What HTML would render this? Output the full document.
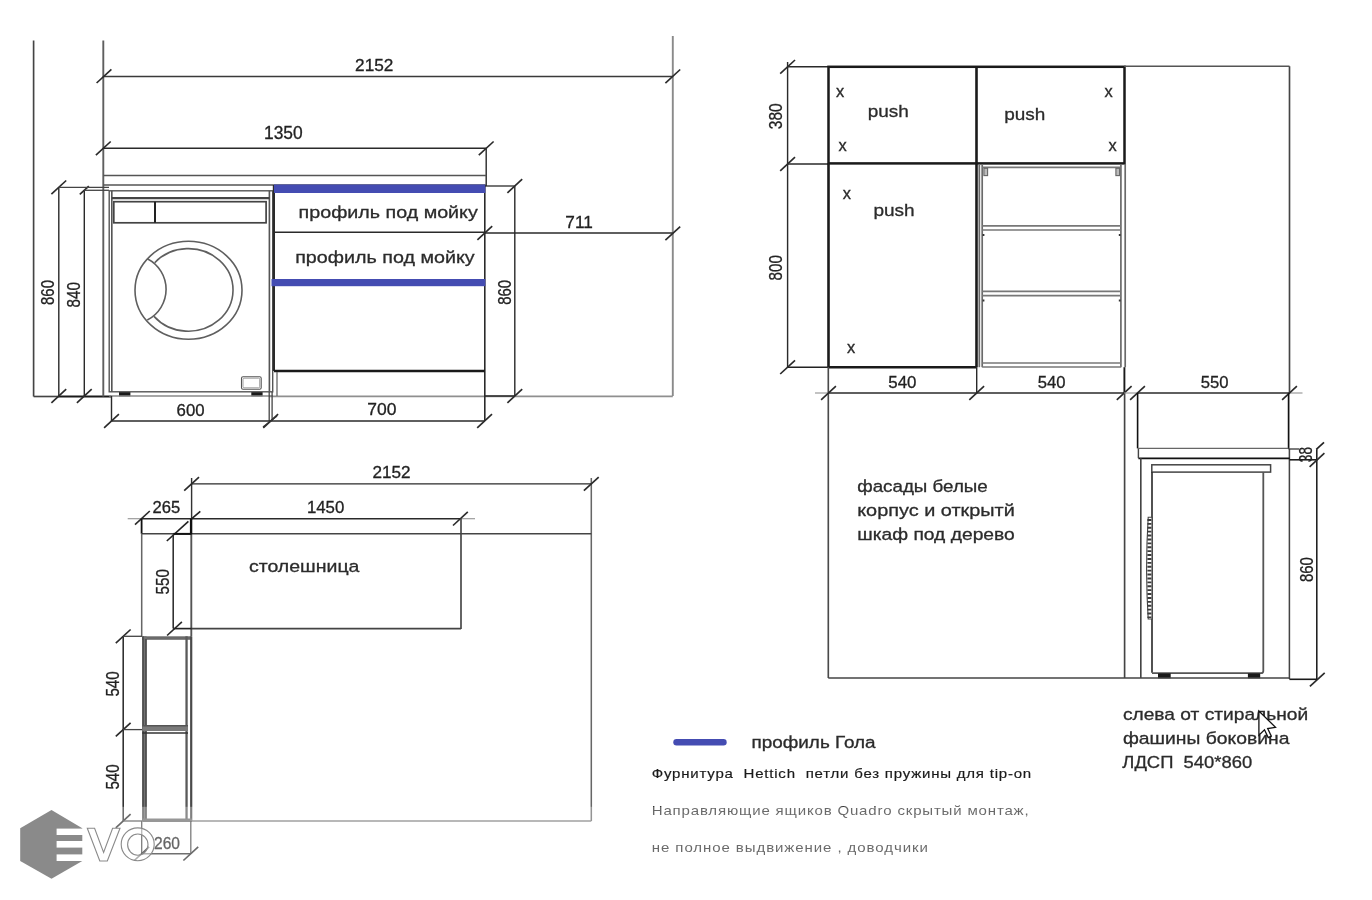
<!DOCTYPE html>
<html><head><meta charset="utf-8"><title>drawing</title>
<style>
html,body{margin:0;padding:0;background:#fff;}
body{width:1372px;height:900px;overflow:hidden;}
svg{display:block;font-family:"Liberation Sans",sans-serif;}
</style></head><body>
<svg width="1372" height="900" viewBox="0 0 1372 900">
<rect width="1372" height="900" fill="#fff"/>
<defs><filter id="soft" x="0" y="0" width="100%" height="100%" filterUnits="userSpaceOnUse" color-interpolation-filters="sRGB"><feGaussianBlur stdDeviation="0.42"/></filter></defs>
<g filter="url(#soft)">
<line x1="33.6" y1="40.5" x2="33.6" y2="396.5" stroke="#444" stroke-width="1.65" />
<line x1="33.6" y1="396.5" x2="58" y2="396.5" stroke="#444" stroke-width="1.65" />
<line x1="58" y1="396.5" x2="111.4" y2="396.5" stroke="#1a1a1a" stroke-width="1.9" />
<line x1="269" y1="396.3" x2="672.8" y2="396.3" stroke="#8f8f8f" stroke-width="1.8" />
<line x1="484.6" y1="396" x2="515" y2="396" stroke="#2a2a2a" stroke-width="1.53" />
<line x1="672.8" y1="36" x2="672.8" y2="396" stroke="#8a8a8a" stroke-width="1.9" />
<line x1="103.3" y1="40.5" x2="103.3" y2="396.5" stroke="#5f5f5f" stroke-width="1.9" />
<line x1="103.3" y1="76.5" x2="672.6" y2="76.5" stroke="#3a3a3a" stroke-width="1.65" />
<line x1="96.6" y1="83.0" x2="111.4" y2="69.4" stroke="#2a2a2a" stroke-width="1.65" />
<line x1="665.4" y1="83.1" x2="680.2" y2="69.5" stroke="#2a2a2a" stroke-width="1.65" />
<text x="355.1" y="70.9" font-size="17.3" fill="#222" font-weight="normal" textLength="38.3" lengthAdjust="spacingAndGlyphs" stroke="#222" stroke-width="0.3">2152</text>
<line x1="103.3" y1="148.3" x2="486.2" y2="148.3" stroke="#2a2a2a" stroke-width="1.53" />
<line x1="95.9" y1="155.1" x2="110.7" y2="141.5" stroke="#2a2a2a" stroke-width="1.65" />
<line x1="478.8" y1="155.1" x2="493.6" y2="141.5" stroke="#2a2a2a" stroke-width="1.65" />
<line x1="486.2" y1="148.3" x2="486.2" y2="186" stroke="#2a2a2a" stroke-width="1.42" />
<text x="264" y="138.5" font-size="17.6" fill="#222" font-weight="normal" textLength="38.7" lengthAdjust="spacingAndGlyphs"  stroke="#222" stroke-width="0.3">1350</text>
<line x1="103.3" y1="175.6" x2="486.2" y2="175.6" stroke="#555" stroke-width="1.53" />
<line x1="103.3" y1="185" x2="486.2" y2="185" stroke="#555" stroke-width="1.53" />
<line x1="58.8" y1="187.3" x2="58.8" y2="396" stroke="#2a2a2a" stroke-width="1.42" />
<line x1="51.4" y1="194.1" x2="66.2" y2="180.5" stroke="#2a2a2a" stroke-width="1.65" />
<line x1="51.4" y1="402.8" x2="66.2" y2="389.2" stroke="#2a2a2a" stroke-width="1.65" />
<line x1="84.3" y1="190.3" x2="84.3" y2="396" stroke="#2a2a2a" stroke-width="1.42" />
<line x1="79.8" y1="194.4" x2="88.8" y2="186.2" stroke="#2a2a2a" stroke-width="1.65" />
<line x1="76.9" y1="402.8" x2="91.7" y2="389.2" stroke="#2a2a2a" stroke-width="1.65" />
<line x1="58.8" y1="187.3" x2="109" y2="187.3" stroke="#444" stroke-width="1.3" />
<line x1="84.3" y1="190.3" x2="109" y2="190.3" stroke="#444" stroke-width="1.3" />
<text transform="translate(41.1,304.95) rotate(-90)" x="0" y="12.6" font-size="17.6" fill="#222" font-weight="normal" textLength="24.9" lengthAdjust="spacingAndGlyphs" stroke="#222" stroke-width="0.3">860</text>
<text transform="translate(66.95,307.4) rotate(-90)" x="0" y="13.1" font-size="18.2" fill="#222" font-weight="normal" textLength="25.4" lengthAdjust="spacingAndGlyphs" stroke="#222" stroke-width="0.3">840</text>
<rect x="109.2" y="190.8" width="163.5" height="201.0" stroke="#555" stroke-width="1.4" fill="none" rx="0"/>
<line x1="111.8" y1="190.8" x2="111.8" y2="391.8" stroke="#555" stroke-width="1.65" />
<line x1="269.4" y1="190.8" x2="269.4" y2="391.8" stroke="#555" stroke-width="1.65" />
<line x1="111.8" y1="198.1" x2="269.4" y2="198.1" stroke="#444" stroke-width="2.2" />
<rect x="113.8" y="201.7" width="152.3" height="21.1" stroke="#444" stroke-width="1.7" fill="none" rx="0"/>
<line x1="155" y1="201.7" x2="155" y2="222.8" stroke="#222" stroke-width="2" />
<ellipse cx="188.5" cy="290.3" rx="53.5" ry="49" fill="none" stroke="#5f5f5f" stroke-width="1.6"/>
<path d="M154.7,262.7 A44.7,41.3 0 1 1 154,316.4" fill="none" stroke="#5f5f5f" stroke-width="1.6"/>
<path d="M147.3,258.7 A34.4,34.4 0 0 1 147.3,320" fill="none" stroke="#5f5f5f" stroke-width="1.6"/>
<rect x="241.5" y="376.7" width="19.7" height="12.6" stroke="#555" stroke-width="1.1" fill="none" rx="1.5"/>
<rect x="243" y="378.2" width="16.7" height="9.6" stroke="#888" stroke-width="0.8" fill="none" rx="1"/>
<rect x="119" y="392.2" width="11.4" height="4.1" fill="#1a1a1a"/>
<rect x="251.3" y="392.2" width="11.3" height="4.1" fill="#1a1a1a"/>
<line x1="109.2" y1="396" x2="272.7" y2="396" stroke="#888" stroke-width="1.3" />
<line x1="111.5" y1="396" x2="111.5" y2="421" stroke="#2a2a2a" stroke-width="1.42" />
<line x1="269.2" y1="392" x2="269.2" y2="421" stroke="#444" stroke-width="1.3" />
<line x1="272.1" y1="392" x2="272.1" y2="421" stroke="#444" stroke-width="1.3" />
<line x1="111.5" y1="421" x2="484.6" y2="421" stroke="#2a2a2a" stroke-width="1.53" />
<line x1="104.1" y1="427.8" x2="118.9" y2="414.2" stroke="#2a2a2a" stroke-width="1.65" />
<line x1="263.3" y1="427.8" x2="278.1" y2="414.2" stroke="#2a2a2a" stroke-width="1.65" />
<line x1="477.2" y1="427.8" x2="492.0" y2="414.2" stroke="#2a2a2a" stroke-width="1.65" />
<line x1="263" y1="427" x2="277" y2="416" stroke="#333" stroke-width="1.42" />
<text x="176.6" y="415.8" font-size="17.3" fill="#222" font-weight="normal" textLength="28" lengthAdjust="spacingAndGlyphs" stroke="#222" stroke-width="0.3">600</text>
<text x="367.3" y="415.4" font-size="17.3" fill="#222" font-weight="normal" textLength="29.2" lengthAdjust="spacingAndGlyphs"  stroke="#222" stroke-width="0.3">700</text>
<line x1="273.9" y1="185" x2="273.9" y2="371" stroke="#2a2a2a" stroke-width="2.2" />
<line x1="484.8" y1="185" x2="484.8" y2="421" stroke="#2a2a2a" stroke-width="1.6" />
<line x1="274" y1="371" x2="484.8" y2="371" stroke="#1a1a1a" stroke-width="2.4" />
<line x1="274" y1="232.3" x2="484.8" y2="232.3" stroke="#2a2a2a" stroke-width="1.42" />
<rect x="274" y="184.5" width="211.4" height="8.5" fill="#444cb2"/>
<rect x="271.5" y="279" width="213.9" height="7.2" fill="#444cb2"/>
<line x1="277" y1="372" x2="277" y2="396" stroke="#666" stroke-width="1.3" />
<text x="298.6" y="217.9" font-size="17.2" fill="#2b2b2b" font-weight="normal" textLength="179.2" lengthAdjust="spacingAndGlyphs"  stroke="#2b2b2b" stroke-width="0.3">профиль под мойку</text>
<text x="295.2" y="262.8" font-size="17.2" fill="#2b2b2b" font-weight="normal" textLength="179.5" lengthAdjust="spacingAndGlyphs"  stroke="#2b2b2b" stroke-width="0.3">профиль под мойку</text>
<line x1="514.8" y1="186" x2="514.8" y2="396" stroke="#2a2a2a" stroke-width="1.42" />
<line x1="507.4" y1="192.8" x2="522.2" y2="179.2" stroke="#2a2a2a" stroke-width="1.65" />
<line x1="507.4" y1="402.8" x2="522.2" y2="389.2" stroke="#2a2a2a" stroke-width="1.65" />
<line x1="485" y1="186" x2="514.8" y2="186" stroke="#2a2a2a" stroke-width="1.3" />
<text transform="translate(497.65,304.85) rotate(-90)" x="0" y="13.1" font-size="18.2" fill="#222" font-weight="normal" textLength="24.9" lengthAdjust="spacingAndGlyphs" stroke="#222" stroke-width="0.3">860</text>
<line x1="484.8" y1="233" x2="672.6" y2="233" stroke="#2a2a2a" stroke-width="1.53" />
<line x1="477.4" y1="239.8" x2="492.2" y2="226.2" stroke="#2a2a2a" stroke-width="1.65" />
<line x1="665.4" y1="240.2" x2="680.2" y2="226.6" stroke="#2a2a2a" stroke-width="1.65" />
<text x="565.3" y="227.9" font-size="17.3" fill="#222" font-weight="normal" textLength="27.5" lengthAdjust="spacingAndGlyphs" stroke="#222" stroke-width="0.3">711</text>
<line x1="191.6" y1="478" x2="191.6" y2="518.7" stroke="#333" stroke-width="1.42" />
<line x1="191.3" y1="534" x2="191.3" y2="636" stroke="#555" stroke-width="1.9" />
<line x1="591.3" y1="478" x2="591.3" y2="821" stroke="#666" stroke-width="1.53" />
<line x1="191.6" y1="483.9" x2="591.3" y2="483.9" stroke="#2a2a2a" stroke-width="1.42" />
<line x1="184.2" y1="490.7" x2="199.0" y2="477.1" stroke="#2a2a2a" stroke-width="1.65" />
<line x1="583.9" y1="490.7" x2="598.7" y2="477.1" stroke="#2a2a2a" stroke-width="1.65" />
<text x="372.5" y="478.3" font-size="17.3" fill="#222" font-weight="normal" textLength="38.1" lengthAdjust="spacingAndGlyphs" stroke="#222" stroke-width="0.3">2152</text>
<line x1="127.7" y1="518.7" x2="141.3" y2="518.7" stroke="#999" stroke-width="1.18" />
<line x1="460.4" y1="518.7" x2="475" y2="518.7" stroke="#999" stroke-width="1.18" />
<line x1="141.3" y1="518.7" x2="460.4" y2="518.7" stroke="#2a2a2a" stroke-width="1.65" />
<line x1="135.0" y1="524.6" x2="149.8" y2="511.0" stroke="#2a2a2a" stroke-width="1.65" />
<line x1="453.0" y1="525.5" x2="467.8" y2="511.9" stroke="#2a2a2a" stroke-width="1.65" />
<line x1="191.2" y1="519.2" x2="200.3" y2="511.4" stroke="#222" stroke-width="1.65" />
<line x1="166.8" y1="541" x2="188.4" y2="521.4" stroke="#222" stroke-width="1.65" />
<text x="152.6" y="513" font-size="17.3" fill="#222" font-weight="normal" textLength="27.7" lengthAdjust="spacingAndGlyphs" stroke="#222" stroke-width="0.3">265</text>
<text x="306.9" y="513" font-size="17.3" fill="#222" font-weight="normal" textLength="37.4" lengthAdjust="spacingAndGlyphs" stroke="#222" stroke-width="0.3">1450</text>
<line x1="141.7" y1="533.7" x2="591.3" y2="533.7" stroke="#444" stroke-width="1.53" />
<line x1="461" y1="518.7" x2="461" y2="629" stroke="#444" stroke-width="1.65" />
<line x1="191.6" y1="628.6" x2="461" y2="628.6" stroke="#444" stroke-width="1.65" />
<line x1="141.6" y1="518.7" x2="141.6" y2="533.7" stroke="#111" stroke-width="1.8" />
<line x1="141.7" y1="533.7" x2="141.7" y2="636" stroke="#666" stroke-width="1.53" />
<line x1="191.1" y1="518.7" x2="191.1" y2="534" stroke="#111" stroke-width="2.4" />
<line x1="173.4" y1="533.9" x2="191.6" y2="533.9" stroke="#111" stroke-width="2" />
<line x1="173.2" y1="534.5" x2="173.2" y2="628.6" stroke="#2a2a2a" stroke-width="1.53" />
<line x1="167.1" y1="635.5" x2="181.9" y2="621.9" stroke="#2a2a2a" stroke-width="1.65" />
<line x1="173.2" y1="628.6" x2="191.6" y2="628.6" stroke="#222" stroke-width="1.65" />
<text transform="translate(155.85,594.45) rotate(-90)" x="0" y="12.9" font-size="18" fill="#222" font-weight="normal" textLength="25.3" lengthAdjust="spacingAndGlyphs" stroke="#222" stroke-width="0.3">550</text>
<text x="249" y="572.3" font-size="17.2" fill="#2b2b2b" font-weight="normal" textLength="110.4" lengthAdjust="spacingAndGlyphs"  stroke="#2b2b2b" stroke-width="0.3">столешница</text>
<rect x="142" y="636.3" width="49.8" height="3.5" fill="#6a6a6a"/>
<rect x="142.3" y="636.3" width="4.3" height="184.7" fill="#727272"/>
<line x1="143" y1="636.3" x2="143" y2="821" stroke="#444" stroke-width="1.42" />
<line x1="146" y1="639" x2="146" y2="821" stroke="#444" stroke-width="1.42" />
<rect x="185.4" y="636.3" width="2.3" height="184.7" fill="#5a5a5a"/>
<rect x="190.1" y="636.3" width="2.2" height="184.7" fill="#4a4a4a"/>
<rect x="142.3" y="725.2" width="45.7" height="5.8" fill="#7a7a7a"/>
<line x1="142.3" y1="725.8" x2="188" y2="725.8" stroke="#555" stroke-width="1.42" />
<line x1="142.3" y1="733" x2="188" y2="733" stroke="#333" stroke-width="1.7" />
<rect x="142.3" y="818.5" width="49.7" height="3.5" fill="#6a6a6a"/>
<line x1="123.2" y1="636.3" x2="123.2" y2="821" stroke="#2a2a2a" stroke-width="1.53" />
<line x1="115.8" y1="643.1" x2="130.6" y2="629.5" stroke="#2a2a2a" stroke-width="1.65" />
<line x1="115.8" y1="736.4" x2="130.6" y2="722.8" stroke="#2a2a2a" stroke-width="1.65" />
<line x1="115.8" y1="827.8" x2="130.6" y2="814.2" stroke="#2a2a2a" stroke-width="1.65" />
<line x1="123.2" y1="636.3" x2="142" y2="636.3" stroke="#444" stroke-width="1.3" />
<line x1="123.2" y1="729.6" x2="142" y2="729.6" stroke="#444" stroke-width="1.3" />
<line x1="123.2" y1="821" x2="142" y2="821" stroke="#444" stroke-width="1.3" />
<text transform="translate(106.1,696.6) rotate(-90)" x="0" y="12.6" font-size="17.6" fill="#222" font-weight="normal" textLength="25.4" lengthAdjust="spacingAndGlyphs" stroke="#222" stroke-width="0.3">540</text>
<text transform="translate(105.65,789.6) rotate(-90)" x="0" y="13.1" font-size="18.2" fill="#222" font-weight="normal" textLength="25.4" lengthAdjust="spacingAndGlyphs" stroke="#222" stroke-width="0.3">540</text>
<line x1="191.6" y1="821" x2="591.3" y2="821" stroke="#777" stroke-width="1.65" />
<line x1="141.7" y1="821" x2="141.7" y2="853.7" stroke="#444" stroke-width="1.3" />
<line x1="190.8" y1="821" x2="190.8" y2="853.7" stroke="#444" stroke-width="1.3" />
<line x1="141.7" y1="853.7" x2="190.8" y2="853.7" stroke="#333" stroke-width="1.53" />
<line x1="134.3" y1="860.5" x2="149.1" y2="846.9" stroke="#2a2a2a" stroke-width="1.65" />
<line x1="183.4" y1="860.5" x2="198.2" y2="846.9" stroke="#2a2a2a" stroke-width="1.65" />
<text x="154" y="848.8" font-size="17.3" fill="#222" font-weight="normal" textLength="26" lengthAdjust="spacingAndGlyphs" stroke="#222" stroke-width="0.3">260</text>
<line x1="787.6" y1="62" x2="787.6" y2="367.2" stroke="#2a2a2a" stroke-width="1.42" />
<line x1="780.2" y1="73.6" x2="795.0" y2="60.0" stroke="#2a2a2a" stroke-width="1.65" />
<line x1="780.2" y1="170.8" x2="795.0" y2="157.2" stroke="#2a2a2a" stroke-width="1.65" />
<line x1="780.2" y1="374.0" x2="795.0" y2="360.4" stroke="#2a2a2a" stroke-width="1.65" />
<line x1="787.6" y1="66.8" x2="828.5" y2="66.8" stroke="#2a2a2a" stroke-width="1.42" />
<line x1="787.6" y1="164" x2="828.5" y2="164" stroke="#2a2a2a" stroke-width="1.42" />
<line x1="787.6" y1="367.2" x2="828.5" y2="367.2" stroke="#222" stroke-width="1.65" />
<text transform="translate(769.7,129.15) rotate(-90)" x="0" y="12.6" font-size="17.6" fill="#222" font-weight="normal" textLength="25.9" lengthAdjust="spacingAndGlyphs" stroke="#222" stroke-width="0.3">380</text>
<text transform="translate(769.7,280.4) rotate(-90)" x="0" y="12.6" font-size="17.6" fill="#222" font-weight="normal" textLength="25.4" lengthAdjust="spacingAndGlyphs" stroke="#222" stroke-width="0.3">800</text>
<rect x="828.5" y="66.8" width="296.0" height="96.6" stroke="#1a1a1a" stroke-width="2.5" fill="none" rx="0"/>
<line x1="976.5" y1="66.8" x2="976.5" y2="367.2" stroke="#1a1a1a" stroke-width="2.6" />
<line x1="828.5" y1="163.4" x2="828.5" y2="367.2" stroke="#1a1a1a" stroke-width="2.6" />
<line x1="828.5" y1="367.2" x2="976.7" y2="367.2" stroke="#1a1a1a" stroke-width="2.6" />
<line x1="979.3" y1="164" x2="979.3" y2="367.2" stroke="#6a6a6a" stroke-width="1.7" />
<line x1="982.2" y1="164" x2="982.2" y2="367.2" stroke="#6a6a6a" stroke-width="1.7" />
<line x1="1120.9" y1="164" x2="1120.9" y2="367.2" stroke="#6a6a6a" stroke-width="1.7" />
<line x1="1125.2" y1="164" x2="1125.2" y2="367.2" stroke="#6a6a6a" stroke-width="1.7" />
<line x1="982.2" y1="167.4" x2="1120.9" y2="167.4" stroke="#777" stroke-width="1.8" />
<line x1="982.2" y1="225.9" x2="1120.9" y2="225.9" stroke="#777" stroke-width="1.7" />
<line x1="982.2" y1="230" x2="1120.9" y2="230" stroke="#777" stroke-width="1.7" />
<line x1="982.2" y1="291.3" x2="1120.9" y2="291.3" stroke="#777" stroke-width="1.7" />
<line x1="982.2" y1="295.6" x2="1120.9" y2="295.6" stroke="#777" stroke-width="1.7" />
<line x1="982.2" y1="363" x2="1120.9" y2="363" stroke="#777" stroke-width="1.7" />
<line x1="982.2" y1="367" x2="1120.9" y2="367" stroke="#777" stroke-width="1.7" />
<rect x="983.9" y="168.3" width="3.7" height="7.3" stroke="#666" stroke-width="1.1" fill="#bbb" rx="0"/>
<rect x="1115.9" y="168.3" width="3.7" height="7.3" stroke="#666" stroke-width="1.1" fill="#bbb" rx="0"/>
<rect x="982.6" y="234" width="1.8" height="2" fill="#333"/>
<rect x="1118.8" y="234" width="1.8" height="2" fill="#333"/>
<rect x="982.6" y="299.5" width="1.8" height="2.0" fill="#333"/>
<rect x="1118.8" y="299.5" width="1.8" height="2.0" fill="#333"/>
<line x1="1124.2" y1="66.3" x2="1289.5" y2="66.3" stroke="#555" stroke-width="1.53" />
<line x1="1289.5" y1="66.3" x2="1289.5" y2="393" stroke="#444" stroke-width="1.65" />
<line x1="828.3" y1="367.2" x2="828.3" y2="678" stroke="#4a4a4a" stroke-width="1.65" />
<line x1="1124.6" y1="393" x2="1124.6" y2="678" stroke="#444" stroke-width="1.65" />
<line x1="1124.4" y1="367.2" x2="1124.4" y2="393" stroke="#1a1a1a" stroke-width="1.9" />
<line x1="815" y1="393" x2="828.5" y2="393" stroke="#999" stroke-width="1.18" />
<line x1="828.5" y1="393" x2="1124.2" y2="393" stroke="#2a2a2a" stroke-width="1.53" />
<line x1="821.1" y1="399.8" x2="835.9" y2="386.2" stroke="#2a2a2a" stroke-width="1.65" />
<line x1="969.3" y1="399.8" x2="984.1" y2="386.2" stroke="#2a2a2a" stroke-width="1.65" />
<line x1="1116.8" y1="399.8" x2="1131.6" y2="386.2" stroke="#2a2a2a" stroke-width="1.65" />
<line x1="976.7" y1="367.2" x2="976.7" y2="393" stroke="#2a2a2a" stroke-width="1.42" />
<line x1="1124.2" y1="393" x2="1137.5" y2="393" stroke="#999" stroke-width="1.18" />
<line x1="1289.5" y1="393" x2="1302.5" y2="393" stroke="#999" stroke-width="1.18" />
<line x1="1137.5" y1="393" x2="1289.5" y2="393" stroke="#2a2a2a" stroke-width="1.53" />
<line x1="1130.1" y1="399.8" x2="1144.9" y2="386.2" stroke="#2a2a2a" stroke-width="1.65" />
<line x1="1282.1" y1="399.8" x2="1296.9" y2="386.2" stroke="#2a2a2a" stroke-width="1.65" />
<text x="888.3" y="387.9" font-size="17.3" fill="#222" font-weight="normal" textLength="28.2" lengthAdjust="spacingAndGlyphs" stroke="#222" stroke-width="0.3">540</text>
<text x="1037.8" y="387.9" font-size="17.3" fill="#222" font-weight="normal" textLength="27.8" lengthAdjust="spacingAndGlyphs" stroke="#222" stroke-width="0.3">540</text>
<text x="1200.7" y="387.9" font-size="17.3" fill="#222" font-weight="normal" textLength="27.8" lengthAdjust="spacingAndGlyphs" stroke="#222" stroke-width="0.3">550</text>
<text x="840" y="96.5" font-size="16.4" fill="#2b2b2b" stroke="#2b2b2b" stroke-width="0.35" text-anchor="middle">x</text>
<text x="842.6" y="151.1" font-size="16.4" fill="#2b2b2b" stroke="#2b2b2b" stroke-width="0.35" text-anchor="middle">x</text>
<text x="846.9" y="198.8" font-size="16.4" fill="#2b2b2b" stroke="#2b2b2b" stroke-width="0.35" text-anchor="middle">x</text>
<text x="851.2" y="352.5" font-size="16.4" fill="#2b2b2b" stroke="#2b2b2b" stroke-width="0.35" text-anchor="middle">x</text>
<text x="1108.7" y="96.5" font-size="16.4" fill="#2b2b2b" stroke="#2b2b2b" stroke-width="0.35" text-anchor="middle">x</text>
<text x="1112.5" y="151.1" font-size="16.4" fill="#2b2b2b" stroke="#2b2b2b" stroke-width="0.35" text-anchor="middle">x</text>
<text x="867.7" y="116.5" font-size="17.3" fill="#2b2b2b" font-weight="normal" textLength="41.1" lengthAdjust="spacingAndGlyphs"  stroke="#2b2b2b" stroke-width="0.3">push</text>
<text x="1004.3" y="120.2" font-size="17.3" fill="#2b2b2b" font-weight="normal" textLength="41.1" lengthAdjust="spacingAndGlyphs"  stroke="#2b2b2b" stroke-width="0.3">push</text>
<text x="873.4" y="216.1" font-size="17.3" fill="#2b2b2b" font-weight="normal" textLength="41.2" lengthAdjust="spacingAndGlyphs"  stroke="#2b2b2b" stroke-width="0.3">push</text>
<text x="857.2" y="492.3" font-size="17.2" fill="#2b2b2b" font-weight="normal" textLength="130.6" lengthAdjust="spacingAndGlyphs"  stroke="#2b2b2b" stroke-width="0.3">фасады белые</text>
<text x="857.2" y="516.2" font-size="17.2" fill="#2b2b2b" font-weight="normal" textLength="157.6" lengthAdjust="spacingAndGlyphs"  stroke="#2b2b2b" stroke-width="0.3">корпус и открытй</text>
<text x="857.2" y="539.6" font-size="17.2" fill="#2b2b2b" font-weight="normal" textLength="157.6" lengthAdjust="spacingAndGlyphs"  stroke="#2b2b2b" stroke-width="0.3">шкаф под дерево</text>
<line x1="1137.6" y1="393" x2="1137.6" y2="448.4" stroke="#111" stroke-width="1.6" />
<line x1="1288.6" y1="393" x2="1288.6" y2="449" stroke="#111" stroke-width="1.7" />
<line x1="1289.4" y1="449" x2="1289.4" y2="679" stroke="#444" stroke-width="1.53" />
<line x1="1138.4" y1="448.4" x2="1288.6" y2="448.4" stroke="#666" stroke-width="1.42" />
<line x1="1138.4" y1="458.4" x2="1289.6" y2="458.4" stroke="#111" stroke-width="1.9" />
<line x1="1138.4" y1="448.4" x2="1138.4" y2="458.2" stroke="#444" stroke-width="1.42" />
<line x1="1288.6" y1="449" x2="1299" y2="449" stroke="#333" stroke-width="1.3" />
<line x1="1289.6" y1="459.8" x2="1317.1" y2="459.8" stroke="#111" stroke-width="1.5" />
<line x1="1316.8" y1="449.3" x2="1316.8" y2="679.4" stroke="#1a1a1a" stroke-width="1.53" />
<line x1="1316.3" y1="449.3" x2="1324" y2="442.3" stroke="#222" stroke-width="1.65" />
<line x1="1309.6" y1="466.8" x2="1324.4" y2="453.2" stroke="#2a2a2a" stroke-width="1.65" />
<line x1="1309.9" y1="686.4" x2="1324.7" y2="672.8" stroke="#2a2a2a" stroke-width="1.65" />
<line x1="1289.4" y1="679.3" x2="1316.8" y2="679.3" stroke="#1a1a1a" stroke-width="1.6" />
<text transform="translate(1300.5,582.05) rotate(-90)" x="0" y="12.6" font-size="17.6" fill="#222" font-weight="normal" textLength="24.9" lengthAdjust="spacingAndGlyphs" stroke="#222" stroke-width="0.3">860</text>
<text transform="translate(1299.6,462.15) rotate(-90)" x="0" y="12.8" font-size="17.8" fill="#222" font-weight="normal" textLength="15.1" lengthAdjust="spacingAndGlyphs" stroke="#222" stroke-width="0.3">38</text>
<line x1="1140.8" y1="458.2" x2="1140.8" y2="678" stroke="#444" stroke-width="1.65" />
<rect x="1151.8" y="464.8" width="118.8" height="7.3" stroke="#444" stroke-width="1.5" fill="none" rx="0"/>
<line x1="1152" y1="472.1" x2="1152" y2="672.8" stroke="#333" stroke-width="1.7" />
<path d="M1263.3,472.1 L1263.3,671 Q1263.3,673.2 1261,673.2 L1152,673.2" fill="none" stroke="#555" stroke-width="1.8"/>
<path d="M1148.2,517.2 L1152,517.2 L1152,619 L1148.2,619 Q1145,568 1148.2,517.2 Z" fill="#fff" stroke="#444" stroke-width="1.1"/>
<line x1="1149.4" y1="519" x2="1149.4" y2="618" stroke="#3a3a3a" stroke-width="4" stroke-dasharray="1.9 2"/>
<rect x="1158" y="673.4" width="12.7" height="4.9" fill="#1a1a1a"/>
<rect x="1247.9" y="673.4" width="12.3" height="4.9" fill="#1a1a1a"/>
<line x1="828.3" y1="678" x2="1289.4" y2="678" stroke="#444" stroke-width="1.53" />
<text x="1122.9" y="720" font-size="17.2" fill="#2b2b2b" font-weight="normal" textLength="185.3" lengthAdjust="spacingAndGlyphs"  stroke="#2b2b2b" stroke-width="0.3">слева от стиральной</text>
<text x="1122.9" y="743.9" font-size="17.2" fill="#2b2b2b" font-weight="normal" textLength="166.6" lengthAdjust="spacingAndGlyphs"  stroke="#2b2b2b" stroke-width="0.3">фашины боковина</text>
<text x="1122.3" y="767.7" font-size="17.0" fill="#2b2b2b" font-weight="normal" textLength="129.9" lengthAdjust="spacingAndGlyphs" xml:space="preserve" stroke="#2b2b2b" stroke-width="0.3">ЛДСП  540*860</text>
<line x1="676.5" y1="742.2" x2="723.5" y2="742.2" stroke="#444cb2" stroke-width="6.4" stroke-linecap="round"/>
<text x="751.5" y="747.7" font-size="16.0" fill="#2b2b2b" font-weight="normal" textLength="124.1" lengthAdjust="spacingAndGlyphs"  stroke="#2b2b2b" stroke-width="0.3">профиль Гола</text>
<text transform="translate(651.8,778.4) scale(1.13,1)" x="0" y="0" font-size="13.3" fill="#1a1a1a" textLength="335.7" lengthAdjust="spacing" xml:space="preserve" stroke="#1a1a1a" stroke-width="0.18">Фурнитура  Hettich  петли без пружины для tip-on</text>
<text transform="translate(651.8,815.1) scale(1.13,1)" x="0" y="0" font-size="13.3" fill="#2a2a2a" textLength="333.5" lengthAdjust="spacing" >Направляющие ящиков Quadro скрытый монтаж,</text>
<text transform="translate(651.8,852.2) scale(1.13,1)" x="0" y="0" font-size="13.3" fill="#2a2a2a" textLength="244.3" lengthAdjust="spacing" >не полное выдвижение , доводчики</text>
<rect x="0" y="806.8" width="1372" height="94" fill="#fff" fill-opacity="0.3"/>
<polygon points="51.5,810.1 82.3,828.2 82.3,861 51.5,878.7 20.2,861 20.2,828.2" fill="#8a8a8a"/>
<rect x="56.6" y="828.6" width="26.4" height="6.4" fill="#fff"/>
<rect x="56.6" y="841" width="26.4" height="6.6" fill="#fff"/>
<rect x="56.6" y="854.4" width="26.4" height="6.6" fill="#fff"/>
<path d="M87.3,828.2 L94.6,828.2 L103.6,852.5 L112.6,828.2 L120,828.2 L107.3,861 L99.8,861 Z" fill="#fff" fill-opacity="0.45" stroke="#8a8a8a" stroke-width="1.1"/>
<path fill-rule="evenodd" d="M121.2,844.3 a16.5,16.4 0 1 0 33,0 a16.5,16.4 0 1 0 -33,0 Z M127.6,844.6 a10.2,10.6 0 1 0 20.4,0 a10.2,10.6 0 1 0 -20.4,0 Z" fill="#fff" fill-opacity="0.45" stroke="#8a8a8a" stroke-width="1.1"/>
<path transform="translate(1258.9,711)" d="M0,0 L0,24.2 L5.6,18.8 L9.3,26.6 L12.4,25.2 L8.8,17.6 L16.6,16.4 Z" fill="#fff" stroke="#111" stroke-width="1.3" stroke-linejoin="miter"/>
</g>
</svg>
</body></html>
